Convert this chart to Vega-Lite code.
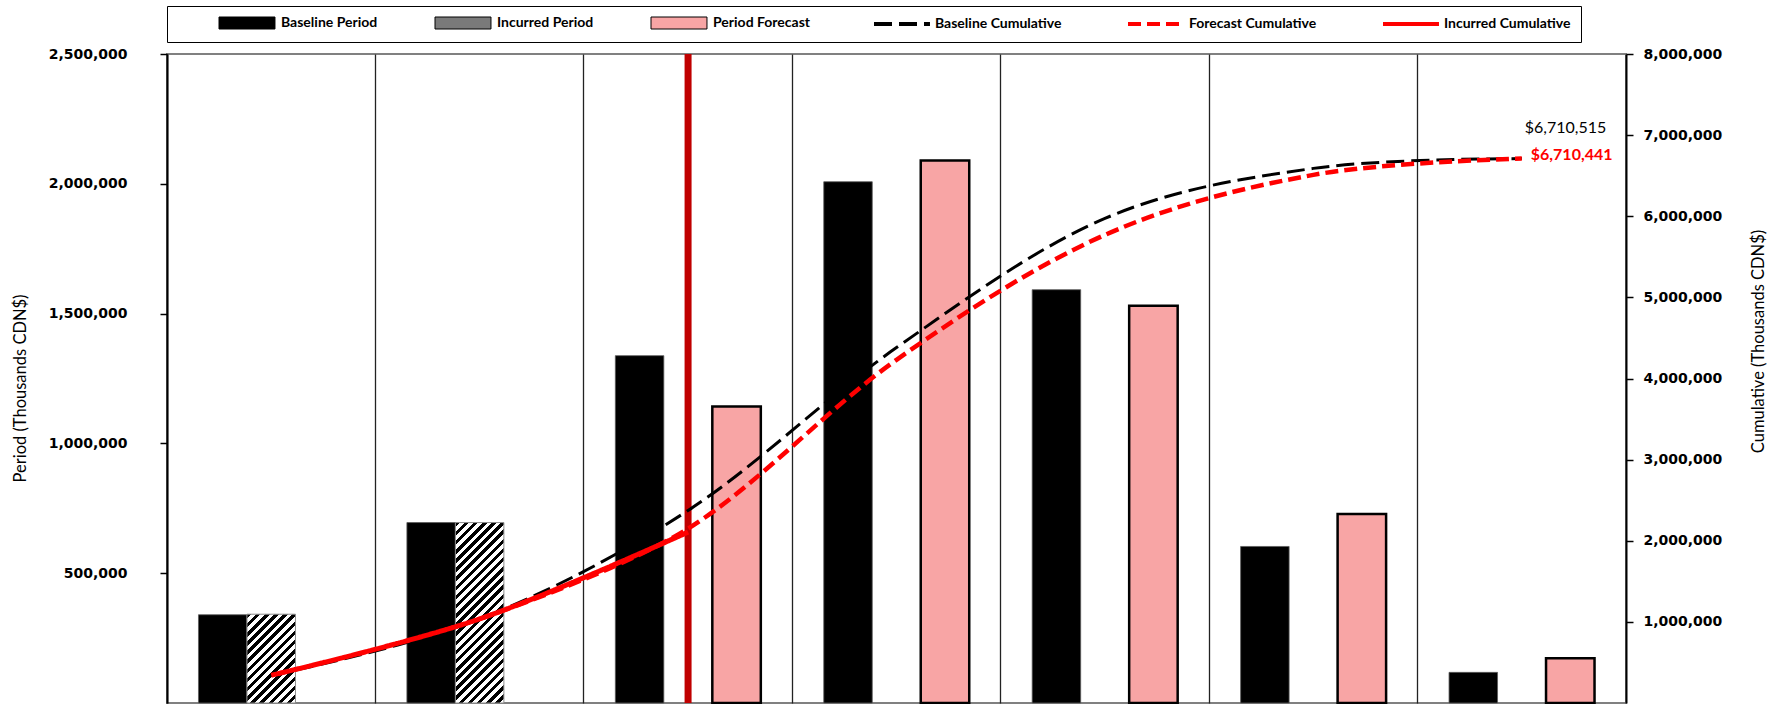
{
  "$schema": "https://vega.github.io/schema/vega-lite/v6.json",
  "width": 1459,
  "height": 649,
  "autosize": {"type": "none"},
  "padding": {"left": 167, "top": 54, "right": 157, "bottom": 1},
  "background": "white",
  "config": {
    "font": "Lato",
    "view": {"stroke": "#808080", "strokeWidth": 2},
    "axis": {
      "domainColor": "#000000",
      "domainWidth": 2,
      "tickColor": "#000000",
      "tickWidth": 1.5,
      "labelFont": "DejaVu Sans",
      "labelFontWeight": "bold",
      "labelFontSize": 14,
      "labelColor": "#000000",
      "titleFont": "Lato",
      "titleFontWeight": "normal",
      "titleFontSize": 16.5,
      "titleColor": "#000000"
    }
  },
  "layer": [
    {
      "layer": [
        {
          "data": {"values": [
            {"period": "P1", "series": "Baseline Period", "value": 340000},
            {"period": "P2", "series": "Baseline Period", "value": 695000},
            {"period": "P3", "series": "Baseline Period", "value": 1338000},
            {"period": "P4", "series": "Baseline Period", "value": 2008000},
            {"period": "P5", "series": "Baseline Period", "value": 1592000},
            {"period": "P6", "series": "Baseline Period", "value": 603000},
            {"period": "P7", "series": "Baseline Period", "value": 118000}
          ]},
          "mark": {"type": "bar", "stroke": "#5a5a5a", "strokeWidth": 0.8},
          "encoding": {
            "x": {"field": "period", "type": "nominal",
              "scale": {"domain": ["P1", "P2", "P3", "P4", "P5", "P6", "P7"], "paddingInner": 0, "paddingOuter": 0},
              "axis": {"orient": "bottom", "labels": false, "ticks": false, "domain": false, "grid": true, "gridColor": "#222222", "gridWidth": 1.3, "title": null, "bandPosition": 0}},
            "xOffset": {"field": "series", "type": "nominal",
              "scale": {"domain": ["Baseline Period", "Incurred Period", "Period Forecast"], "paddingInner": 0, "paddingOuter": 0.649}},
            "y": {"field": "value", "type": "quantitative",
              "scale": {"domain": [0, 2500000], "nice": false},
              "axis": {"orient": "left", "values": [500000, 1000000, 1500000, 2000000, 2500000], "format": ",.0f", "grid": false, "tickSize": 7, "labelPadding": 33,
                "title": "Period (Thousands CDN$)", "titleX": -146.5, "titleY": 334, "titleBaseline": "middle", "titleAlign": "center", "titleAngle": -90}},
            "fill": {"field": "series", "type": "nominal",
              "scale": {
                "domain": ["Baseline Period", "Incurred Period", "Period Forecast"],
                "range": ["#000000", "#7a7a7a", "#F8A5A5"]
              },
              "legend": {
                "orient": "none", "legendX": 41, "legendY": -48,
                "direction": "horizontal", "columns": 3, "gridAlign": "none", "columnPadding": 55,
                "padding": 10, "strokeColor": null, "fillColor": null,
                "symbolType": "M-1,-1H8.33V1H-1Z", "symbolSize": 144, "symbolStrokeColor": "#000000", "symbolStrokeWidth": 1, "symbolOffset": 0, "symbolOpacity": 1,
                "labelOffset": 49, "labelFont": "Lato", "labelFontWeight": "bold", "labelFontSize": 14, "labelColor": "#000000", "labelLimit": 400,
                "title": null
              }
            }
          }
        },
        {
          "data": {"values": [
            {"period": "P1", "series": "Incurred Period", "value": 342000},
            {"period": "P2", "series": "Incurred Period", "value": 695000}
          ]},
          "mark": {"type": "bar", "stroke": "#8c8c8c", "strokeWidth": 1},
          "encoding": {
            "x": {"field": "period", "type": "nominal", "scale": {"domain": ["P1", "P2", "P3", "P4", "P5", "P6", "P7"], "paddingInner": 0, "paddingOuter": 0}},
            "xOffset": {"field": "series", "type": "nominal", "scale": {"domain": ["Baseline Period", "Incurred Period", "Period Forecast"], "paddingInner": 0, "paddingOuter": 0.649}},
            "y": {"field": "value", "type": "quantitative", "scale": {"domain": [0, 2500000], "nice": false}},
            "fill": {
              "condition": {"test": "datum.period === 'P1'", "value": {"gradient": "linear", "x1": 0, "y1": 0, "x2": 0.6505, "y2": 1.191, "stops": [
                {"offset": 0, "color": "#000000"}, {"offset": 0.0333, "color": "#000000"},
                {"offset": 0.0333, "color": "#ffffff"}, {"offset": 0.0667, "color": "#ffffff"},
                {"offset": 0.0667, "color": "#000000"}, {"offset": 0.1, "color": "#000000"},
                {"offset": 0.1, "color": "#ffffff"}, {"offset": 0.1333, "color": "#ffffff"},
                {"offset": 0.1333, "color": "#000000"}, {"offset": 0.1667, "color": "#000000"},
                {"offset": 0.1667, "color": "#ffffff"}, {"offset": 0.2, "color": "#ffffff"},
                {"offset": 0.2, "color": "#000000"}, {"offset": 0.2333, "color": "#000000"},
                {"offset": 0.2333, "color": "#ffffff"}, {"offset": 0.2667, "color": "#ffffff"},
                {"offset": 0.2667, "color": "#000000"}, {"offset": 0.3, "color": "#000000"},
                {"offset": 0.3, "color": "#ffffff"}, {"offset": 0.3333, "color": "#ffffff"},
                {"offset": 0.3333, "color": "#000000"}, {"offset": 0.3667, "color": "#000000"},
                {"offset": 0.3667, "color": "#ffffff"}, {"offset": 0.4, "color": "#ffffff"},
                {"offset": 0.4, "color": "#000000"}, {"offset": 0.4333, "color": "#000000"},
                {"offset": 0.4333, "color": "#ffffff"}, {"offset": 0.4667, "color": "#ffffff"},
                {"offset": 0.4667, "color": "#000000"}, {"offset": 0.5, "color": "#000000"},
                {"offset": 0.5, "color": "#ffffff"}, {"offset": 0.5333, "color": "#ffffff"},
                {"offset": 0.5333, "color": "#000000"}, {"offset": 0.5667, "color": "#000000"},
                {"offset": 0.5667, "color": "#ffffff"}, {"offset": 0.6, "color": "#ffffff"},
                {"offset": 0.6, "color": "#000000"}, {"offset": 0.6333, "color": "#000000"},
                {"offset": 0.6333, "color": "#ffffff"}, {"offset": 0.6667, "color": "#ffffff"},
                {"offset": 0.6667, "color": "#000000"}, {"offset": 0.7, "color": "#000000"},
                {"offset": 0.7, "color": "#ffffff"}, {"offset": 0.7333, "color": "#ffffff"},
                {"offset": 0.7333, "color": "#000000"}, {"offset": 0.7667, "color": "#000000"},
                {"offset": 0.7667, "color": "#ffffff"}, {"offset": 0.8, "color": "#ffffff"},
                {"offset": 0.8, "color": "#000000"}, {"offset": 0.8333, "color": "#000000"},
                {"offset": 0.8333, "color": "#ffffff"}, {"offset": 0.8667, "color": "#ffffff"},
                {"offset": 0.8667, "color": "#000000"}, {"offset": 0.9, "color": "#000000"},
                {"offset": 0.9, "color": "#ffffff"}, {"offset": 0.9333, "color": "#ffffff"},
                {"offset": 0.9333, "color": "#000000"}, {"offset": 0.9667, "color": "#000000"},
                {"offset": 0.9667, "color": "#ffffff"}, {"offset": 1, "color": "#ffffff"}
              ]}},
              "value": {"gradient": "linear", "x1": 0, "y1": 0, "x2": 0.3181, "y2": 1.1833, "stops": [
                {"offset": 0, "color": "#000000"}, {"offset": 0.02, "color": "#000000"},
                {"offset": 0.02, "color": "#ffffff"}, {"offset": 0.04, "color": "#ffffff"},
                {"offset": 0.04, "color": "#000000"}, {"offset": 0.06, "color": "#000000"},
                {"offset": 0.06, "color": "#ffffff"}, {"offset": 0.08, "color": "#ffffff"},
                {"offset": 0.08, "color": "#000000"}, {"offset": 0.1, "color": "#000000"},
                {"offset": 0.1, "color": "#ffffff"}, {"offset": 0.12, "color": "#ffffff"},
                {"offset": 0.12, "color": "#000000"}, {"offset": 0.14, "color": "#000000"},
                {"offset": 0.14, "color": "#ffffff"}, {"offset": 0.16, "color": "#ffffff"},
                {"offset": 0.16, "color": "#000000"}, {"offset": 0.18, "color": "#000000"},
                {"offset": 0.18, "color": "#ffffff"}, {"offset": 0.2, "color": "#ffffff"},
                {"offset": 0.2, "color": "#000000"}, {"offset": 0.22, "color": "#000000"},
                {"offset": 0.22, "color": "#ffffff"}, {"offset": 0.24, "color": "#ffffff"},
                {"offset": 0.24, "color": "#000000"}, {"offset": 0.26, "color": "#000000"},
                {"offset": 0.26, "color": "#ffffff"}, {"offset": 0.28, "color": "#ffffff"},
                {"offset": 0.28, "color": "#000000"}, {"offset": 0.3, "color": "#000000"},
                {"offset": 0.3, "color": "#ffffff"}, {"offset": 0.32, "color": "#ffffff"},
                {"offset": 0.32, "color": "#000000"}, {"offset": 0.34, "color": "#000000"},
                {"offset": 0.34, "color": "#ffffff"}, {"offset": 0.36, "color": "#ffffff"},
                {"offset": 0.36, "color": "#000000"}, {"offset": 0.38, "color": "#000000"},
                {"offset": 0.38, "color": "#ffffff"}, {"offset": 0.4, "color": "#ffffff"},
                {"offset": 0.4, "color": "#000000"}, {"offset": 0.42, "color": "#000000"},
                {"offset": 0.42, "color": "#ffffff"}, {"offset": 0.44, "color": "#ffffff"},
                {"offset": 0.44, "color": "#000000"}, {"offset": 0.46, "color": "#000000"},
                {"offset": 0.46, "color": "#ffffff"}, {"offset": 0.48, "color": "#ffffff"},
                {"offset": 0.48, "color": "#000000"}, {"offset": 0.5, "color": "#000000"},
                {"offset": 0.5, "color": "#ffffff"}, {"offset": 0.52, "color": "#ffffff"},
                {"offset": 0.52, "color": "#000000"}, {"offset": 0.54, "color": "#000000"},
                {"offset": 0.54, "color": "#ffffff"}, {"offset": 0.56, "color": "#ffffff"},
                {"offset": 0.56, "color": "#000000"}, {"offset": 0.58, "color": "#000000"},
                {"offset": 0.58, "color": "#ffffff"}, {"offset": 0.6, "color": "#ffffff"},
                {"offset": 0.6, "color": "#000000"}, {"offset": 0.62, "color": "#000000"},
                {"offset": 0.62, "color": "#ffffff"}, {"offset": 0.64, "color": "#ffffff"},
                {"offset": 0.64, "color": "#000000"}, {"offset": 0.66, "color": "#000000"},
                {"offset": 0.66, "color": "#ffffff"}, {"offset": 0.68, "color": "#ffffff"},
                {"offset": 0.68, "color": "#000000"}, {"offset": 0.7, "color": "#000000"},
                {"offset": 0.7, "color": "#ffffff"}, {"offset": 0.72, "color": "#ffffff"},
                {"offset": 0.72, "color": "#000000"}, {"offset": 0.74, "color": "#000000"},
                {"offset": 0.74, "color": "#ffffff"}, {"offset": 0.76, "color": "#ffffff"},
                {"offset": 0.76, "color": "#000000"}, {"offset": 0.78, "color": "#000000"},
                {"offset": 0.78, "color": "#ffffff"}, {"offset": 0.8, "color": "#ffffff"},
                {"offset": 0.8, "color": "#000000"}, {"offset": 0.82, "color": "#000000"},
                {"offset": 0.82, "color": "#ffffff"}, {"offset": 0.84, "color": "#ffffff"},
                {"offset": 0.84, "color": "#000000"}, {"offset": 0.86, "color": "#000000"},
                {"offset": 0.86, "color": "#ffffff"}, {"offset": 0.88, "color": "#ffffff"},
                {"offset": 0.88, "color": "#000000"}, {"offset": 0.9, "color": "#000000"},
                {"offset": 0.9, "color": "#ffffff"}, {"offset": 0.92, "color": "#ffffff"},
                {"offset": 0.92, "color": "#000000"}, {"offset": 0.94, "color": "#000000"},
                {"offset": 0.94, "color": "#ffffff"}, {"offset": 0.96, "color": "#ffffff"},
                {"offset": 0.96, "color": "#000000"}, {"offset": 0.98, "color": "#000000"},
                {"offset": 0.98, "color": "#ffffff"}, {"offset": 1, "color": "#ffffff"}
              ]}
            }
          }
        },
        {
          "data": {"values": [
            {"period": "P3", "series": "Period Forecast", "value": 1142000},
            {"period": "P4", "series": "Period Forecast", "value": 2090000},
            {"period": "P5", "series": "Period Forecast", "value": 1530000},
            {"period": "P6", "series": "Period Forecast", "value": 728000},
            {"period": "P7", "series": "Period Forecast", "value": 172000}
          ]},
          "mark": {"type": "bar", "stroke": "#000000", "strokeWidth": 2.5},
          "encoding": {
            "x": {"field": "period", "type": "nominal", "scale": {"domain": ["P1", "P2", "P3", "P4", "P5", "P6", "P7"], "paddingInner": 0, "paddingOuter": 0}},
            "xOffset": {"field": "series", "type": "nominal", "scale": {"domain": ["Baseline Period", "Incurred Period", "Period Forecast"], "paddingInner": 0, "paddingOuter": 0.649}},
            "y": {"field": "value", "type": "quantitative", "scale": {"domain": [0, 2500000], "nice": false}},
            "fill": {"field": "series", "type": "nominal"}
          }
        },
        {
          "data": {"values": [{"period": "P3"}]},
          "mark": {"type": "rule", "color": "#C00000", "strokeWidth": 7},
          "encoding": {
            "x": {"field": "period", "type": "nominal", "bandPosition": 0.5, "scale": {"domain": ["P1", "P2", "P3", "P4", "P5", "P6", "P7"], "paddingInner": 0, "paddingOuter": 0}}
          }
        }
      ]
    },
    {
      "layer": [
        {
          "data": {"values": [
            {"period": "P1", "series": "Baseline Cumulative", "cum": 340000},
            {"period": "P2", "series": "Baseline Cumulative", "cum": 1035000},
            {"period": "P3", "series": "Baseline Cumulative", "cum": 2373000},
            {"period": "P4", "series": "Baseline Cumulative", "cum": 4381000},
            {"period": "P5", "series": "Baseline Cumulative", "cum": 5973000},
            {"period": "P6", "series": "Baseline Cumulative", "cum": 6590000},
            {"period": "P7", "series": "Baseline Cumulative", "cum": 6710515}
          ]},
          "mark": {"type": "line", "strokeWidth": 3, "interpolate": "cardinal"},
          "encoding": {
            "x": {"field": "period", "type": "nominal", "scale": {"domain": ["P1", "P2", "P3", "P4", "P5", "P6", "P7"], "paddingInner": 0, "paddingOuter": 0}},
            "y": {"field": "cum", "type": "quantitative",
              "scale": {"domain": [0, 8000000], "nice": false},
              "axis": {"orient": "right", "values": [1000000, 2000000, 3000000, 4000000, 5000000, 6000000, 7000000, 8000000], "format": ",.0f", "grid": false, "tickSize": 7, "labelPadding": 10,
                "title": "Cumulative (Thousands CDN$)", "titleX": 132, "titleY": 287, "titleBaseline": "middle", "titleAlign": "center", "titleAngle": -90}},
            "stroke": {"field": "series", "type": "nominal",
              "scale": {
                "domain": ["Baseline Cumulative", "Forecast Cumulative", "Incurred Cumulative"],
                "range": ["#000000", "#FF0000", "#FF0000"]
              },
              "legend": {
                "orient": "none", "legendX": 0, "legendY": -48,
                "direction": "horizontal", "columns": 3, "gridAlign": "none", "columnPadding": 58,
                "padding": 10, "strokeColor": "#000000", "fillColor": null,
                "symbolType": "M-1,0H8.33", "symbolSize": 144, "symbolStrokeWidth": 4, "symbolOffset": 0, "symbolOpacity": 1,
                "labelOffset": 47, "labelFont": "Lato", "labelFontWeight": "bold", "labelFontSize": 14, "labelColor": "#000000", "labelLimit": 400,
                "title": " ", "titleOrient": "left", "titleFontSize": 10, "titlePadding": 695
              }
            },
            "strokeDash": {"field": "series", "type": "nominal",
              "scale": {
                "domain": ["Baseline Cumulative", "Forecast Cumulative", "Incurred Cumulative"],
                "range": [[18, 7], [13, 6], [1, 0]]
              }
            }
          }
        },
        {
          "data": {"values": [
            {"period": "P2", "series": "Forecast Cumulative", "cum": 1037000},
            {"period": "P3", "series": "Forecast Cumulative", "cum": 2150000},
            {"period": "P4", "series": "Forecast Cumulative", "cum": 4230000},
            {"period": "P5", "series": "Forecast Cumulative", "cum": 5770000},
            {"period": "P6", "series": "Forecast Cumulative", "cum": 6510000},
            {"period": "P7", "series": "Forecast Cumulative", "cum": 6710441}
          ]},
          "mark": {"type": "line", "strokeWidth": 4.5, "interpolate": "cardinal"},
          "encoding": {
            "x": {"field": "period", "type": "nominal", "scale": {"domain": ["P1", "P2", "P3", "P4", "P5", "P6", "P7"], "paddingInner": 0, "paddingOuter": 0}},
            "y": {"field": "cum", "type": "quantitative", "scale": {"domain": [0, 8000000], "nice": false}},
            "stroke": {"field": "series", "type": "nominal"},
            "strokeDash": {"field": "series", "type": "nominal"}
          }
        },
        {
          "data": {"values": [
            {"period": "P1", "series": "Incurred Cumulative", "cum": 342000},
            {"period": "P2", "series": "Incurred Cumulative", "cum": 1037000},
            {"period": "P3", "series": "Incurred Cumulative", "cum": 2107000}
          ]},
          "mark": {"type": "line", "strokeWidth": 5, "interpolate": "cardinal"},
          "encoding": {
            "x": {"field": "period", "type": "nominal", "scale": {"domain": ["P1", "P2", "P3", "P4", "P5", "P6", "P7"], "paddingInner": 0, "paddingOuter": 0}},
            "y": {"field": "cum", "type": "quantitative", "scale": {"domain": [0, 8000000], "nice": false}},
            "stroke": {"field": "series", "type": "nominal"},
            "strokeDash": {"field": "series", "type": "nominal"}
          }
        },
        {
          "data": {"values": [{"period": "P7", "cum": 6710515, "label": "$6,710,515"}]},
          "mark": {"type": "text", "align": "left", "baseline": "middle", "dx": 3, "dy": -31, "font": "Lato", "fontSize": 16, "color": "#000000"},
          "encoding": {
            "x": {"field": "period", "type": "nominal", "scale": {"domain": ["P1", "P2", "P3", "P4", "P5", "P6", "P7"], "paddingInner": 0, "paddingOuter": 0}},
            "y": {"field": "cum", "type": "quantitative", "scale": {"domain": [0, 8000000], "nice": false}},
            "text": {"field": "label"}
          }
        },
        {
          "data": {"values": [{"period": "P7", "cum": 6710441, "label": "$6,710,441"}]},
          "mark": {"type": "text", "align": "left", "baseline": "middle", "dx": 9, "dy": -4, "font": "Lato", "fontSize": 16, "fontWeight": "bold", "color": "#FF0000"},
          "encoding": {
            "x": {"field": "period", "type": "nominal", "scale": {"domain": ["P1", "P2", "P3", "P4", "P5", "P6", "P7"], "paddingInner": 0, "paddingOuter": 0}},
            "y": {"field": "cum", "type": "quantitative", "scale": {"domain": [0, 8000000], "nice": false}},
            "text": {"field": "label"}
          }
        }
      ]
    }
  ],
  "resolve": {"scale": {"y": "independent"}}
}
